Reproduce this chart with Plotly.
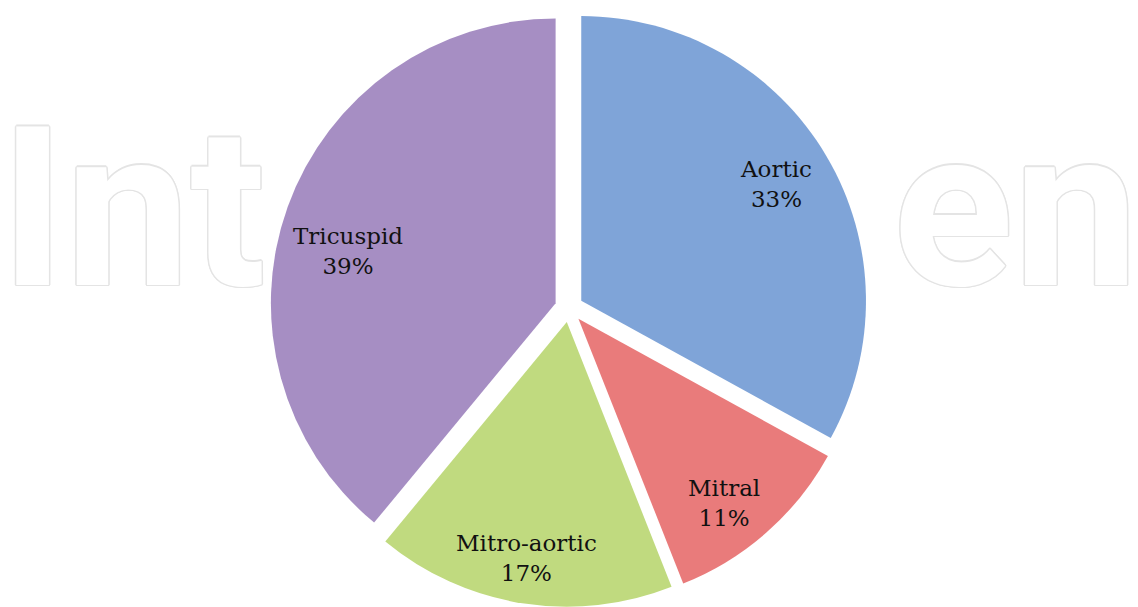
import math
import plotly.graph_objects as go

# ---- data ----
categories = ["Aortic", "Mitral", "Mitro-aortic", "Tricuspid"]
values = [33, 11, 17, 39]
colors = ["#7FA4D8", "#E97B7B", "#C0DA7F", "#A68EC3"]
watermark_parts = ["Int", "en"]   # visible fragments of the faint background watermark

W, H = 1138, 607
PULL = 0.05
DOM_X = [0.0, 1.0]
DOM_Y = [0.0, 0.985]
LABEL_R = 0.84  # label distance from pie centre, as fraction of radius
# small presentation nudges (px) of the label boxes, like the original's best-fit placement
label_nudge = {"Aortic": (1, -2), "Mitral": (-3, 16), "Mitro-aortic": (-5, 14), "Tricuspid": (4, 24)}

total = sum(values)
pct_text = [f"{c}<br>{round(v / total * 100)}%" for c, v in zip(categories, values)]

fig = go.Figure()

outline = ", ".join(f"{dx}px {dy}px 0 #e4e4e4" for dx, dy in
                    [(1.5, 0), (-1.5, 0), (0, 1.5), (0, -1.5), (1, 1), (-1, -1), (1, -1), (-1, 1)])
# faint background watermark (cartesian layer sits below the pie layer)
fig.add_trace(go.Scatter(
    x=[0, 893], y=[229, 229], mode="text", text=watermark_parts,
    textposition="middle right",
    textfont=dict(family="Roboto", size=223, weight="bold", color="white", shadow=outline),
    hoverinfo="skip", showlegend=False, cliponaxis=False,
))

fig.add_trace(go.Pie(
    labels=categories, values=values,
    marker=dict(colors=colors, line=dict(width=0)),
    sort=False, direction="clockwise", rotation=0,
    pull=[PULL] * len(values),
    textinfo="none", hoverinfo="skip", showlegend=False,
    domain=dict(x=DOM_X, y=DOM_Y),
))

# label positions derived from the pie geometry (same formula plotly uses)
rx = W * (DOM_X[1] - DOM_X[0]) / 2
ry = H * (DOM_Y[1] - DOM_Y[0]) / 2
R = min(rx, ry) / (1 + PULL)
cx = W * (DOM_X[0] + DOM_X[1]) / 2
cy = H * (1 - DOM_Y[0]) - ry

cum = 0
for cat, txt, v in zip(categories, pct_text, values):
    mid = (cum + v / 2) / total * 2 * math.pi
    cum += v
    nx, ny = label_nudge.get(cat, (0, 0))
    x = cx + LABEL_R * R * math.sin(mid) + nx
    y = cy - LABEL_R * R * math.cos(mid) + ny
    fig.add_annotation(
        x=x / W, y=1 - y / H, xref="paper", yref="paper",
        text=txt, showarrow=False, xanchor="center", yanchor="middle",
        font=dict(family="DejaVu Serif", size=23, color="#111111"),
    )

fig.update_layout(
    width=W, height=H,
    margin=dict(l=0, r=0, t=0, b=0),
    paper_bgcolor="white", plot_bgcolor="white",
    xaxis=dict(range=[0, W], visible=False, fixedrange=True),
    yaxis=dict(range=[H, 0], visible=False, fixedrange=True),
    showlegend=False,
)

fig.write_html("out.html", config={"displayModeBar": False},
               post_script="document.body.style.margin='0';")
